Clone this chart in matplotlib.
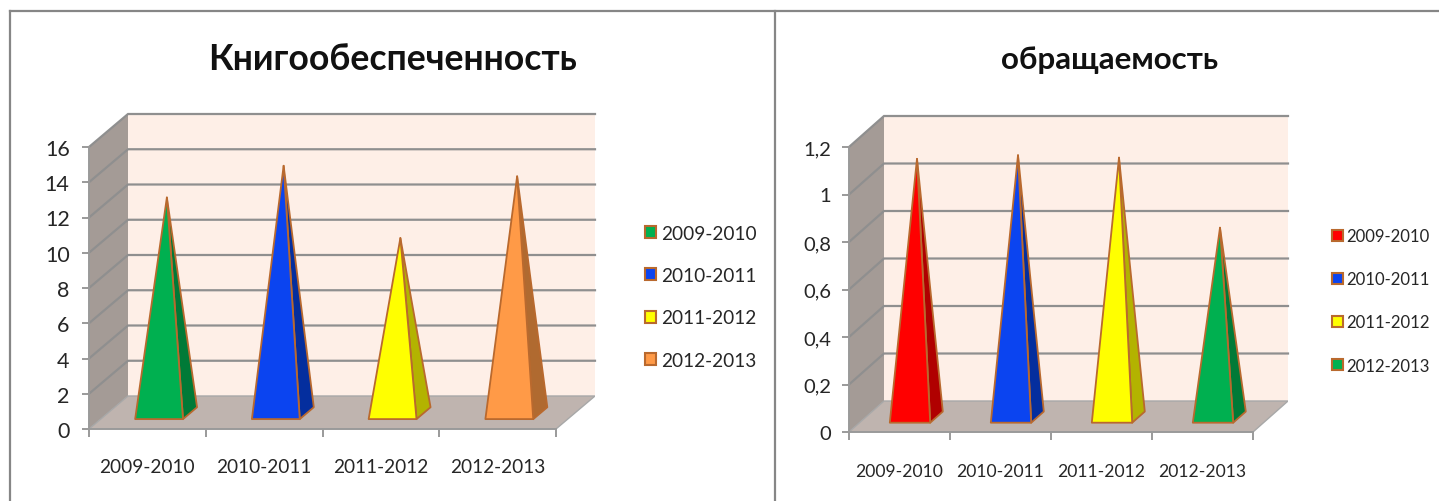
import matplotlib
matplotlib.use("Agg")
import matplotlib.pyplot as plt
from matplotlib.patches import Polygon, Patch
from matplotlib.lines import Line2D

plt.rcParams['font.family'] = ['Lato', 'Open Sans', 'DejaVu Sans']

W, H = 1439, 502

categories = ['2009-2010', '2010-2011', '2011-2012', '2012-2013']

title_left = 'Книгообеспеченность'
values_left = [12.2, 14.0, 9.9, 13.4]
ticks_left = [0, 2, 4, 6, 8, 10, 12, 14, 16]
ticklabels_left = ['0', '2', '4', '6', '8', '10', '12', '14', '16']
front_left = ['#00B050', '#0B44F0', '#FFFF00', '#FF9A47']
side_left = ['#007A37', '#042E9E', '#B3B300', '#B06A30']

title_right = 'обращаемость'
values_right = [1.085, 1.10, 1.09, 0.795]
ticks_right = [0, 0.2, 0.4, 0.6, 0.8, 1.0, 1.2]
ticklabels_right = ['0', '0,2', '0,4', '0,6', '0,8', '1', '1,2']
front_right = ['#FF0000', '#0B44F0', '#FFFF00', '#00B050']
side_right = ['#B00000', '#042E9E', '#B3B300', '#007A37']

EDGE = '#B9692E'
TEXT = '#262626'
GRID = '#8F8F8F'


def chart(fig, px_left, px_right, px_bottom, px_top, depth_px, ticks, ticklabels,
          values, front, side, fontsize, half_width, base_fs, ypad, xpad):
    ax = fig.add_axes([px_left / W, 1 - px_bottom / H,
                       (px_right - px_left) / W, (px_bottom - px_top) / H])
    n = len(categories)
    vmax = ticks[-1]
    xunit = (px_right - depth_px[0] - px_left) / n
    yunit = (px_bottom - px_top - depth_px[1]) / vmax
    dx, dy = depth_px[0] / xunit, depth_px[1] / yunit
    ax.set_xlim(0, n + dx)
    ax.set_ylim(0, vmax + dy)
    ax.patch.set_visible(False)

    # walls and floor
    ax.add_patch(Polygon([(dx, dy), (n + dx, dy), (n + dx, vmax + dy), (dx, vmax + dy)],
                         fc='#FEEFE7', ec='none', zorder=1))
    ax.add_patch(Polygon([(0, 0), (dx, dy), (dx, vmax + dy), (0, vmax)],
                         fc='#A49B96', ec='none', zorder=1))
    for t in ticks[1:]:
        ax.plot([0, dx, n + dx], [t, t + dy, t + dy], color=GRID, lw=1.6, zorder=2,
                clip_on=False, solid_joinstyle='miter')
    ax.add_patch(Polygon([(0, 0), (n, 0), (n + dx, dy), (dx, dy)],
                         fc='#BFB4AF', ec='#A8A8A8', lw=1.0, zorder=3))

    # pyramids
    for i, v in enumerate(values):
        c = i + 0.5
        f, b = 0.3, 0.66
        fl = (c - half_width + f * dx, f * dy)
        fr = (c + half_width + f * dx, f * dy)
        br = (c + half_width + b * dx, b * dy)
        apex = (c + 0.5 * dx, v + 0.5 * dy)
        ax.add_patch(Polygon([fr, br, apex], fc=side[i], ec=EDGE, lw=1.3, zorder=4,
                             joinstyle='round'))
        ax.add_patch(Polygon([fl, fr, apex], fc=front[i], ec=EDGE, lw=1.3, zorder=5,
                             joinstyle='round'))

    for s in ['top', 'right']:
        ax.spines[s].set_visible(False)
    ax.spines['left'].set_bounds(0, vmax)
    ax.spines['bottom'].set_bounds(0, n)
    for s in ['left', 'bottom']:
        ax.spines[s].set_color('#9A9A9A')
        ax.spines[s].set_linewidth(1.4)
        ax.spines[s].set_zorder(3.5)
    ax.set_yticks(ticks)
    ax.set_yticklabels(ticklabels, fontsize=fontsize, color=TEXT)
    ax.tick_params(axis='y', length=5, width=1.4, color='#9A9A9A', pad=ypad)
    ax.set_xticks(range(n + 1))
    ax.set_xticklabels([''] * (n + 1))
    ax.tick_params(axis='x', length=6, width=1.4, color='#9A9A9A')
    ax.set_xticks([i + 0.5 for i in range(n)], minor=True)
    ax.set_xticklabels(categories, minor=True, fontsize=base_fs, color=TEXT)
    ax.tick_params(axis='x', which='minor', length=0, pad=xpad)
    return ax


fig = plt.figure(figsize=(W / 100, H / 100), dpi=100, facecolor='white')

chart(fig, 89, 595, 430, 115, (39, 33), ticks_left, ticklabels_left,
      values_left, front_left, side_left, 15.5, 0.205, 13.7, 9, 20.7)
chart(fig, 849, 1288, 433, 117, (35, 31), ticks_right, ticklabels_right,
      values_right, front_right, side_right, 14.5, 0.2, 12.6, 8, 22)

# frame
for xs, ys in [((10, 10), (H, 12)), ((10, W), (12, 12)), ((775, 775), (12, H))]:
    fig.add_artist(Line2D([x / W for x in xs], [1 - y / H for y in ys],
                          color='#868686', lw=1.6))

fig.text(393 / W, 1 - 60 / H, title_left, fontsize=25.6, fontweight='bold',
         ha='center', va='center', color='#111111')
fig.text(1110 / W, 1 - 60 / H, title_right, fontsize=22.6, fontweight='bold',
         ha='center', va='center', color='#111111')


def legend(x_px, y_px, colors, fs, spacing, textpad, handle):
    handles = [Patch(fc=c, ec=EDGE, lw=1.5) for c in colors]
    fig.legend(handles, categories, loc='upper left',
               bbox_to_anchor=(x_px / W, 1 - y_px / H), frameon=False,
               fontsize=fs, handlelength=handle, handleheight=handle, handletextpad=textpad,
               labelspacing=spacing, borderpad=0, borderaxespad=0, labelcolor=TEXT)


legend(645, 225.5, front_left, 13.7, 1.34, 0.24, 0.6)
legend(1332, 229, front_right, 12.1, 1.62, 0.2, 0.64)

fig.savefig('out.png', dpi=100)
